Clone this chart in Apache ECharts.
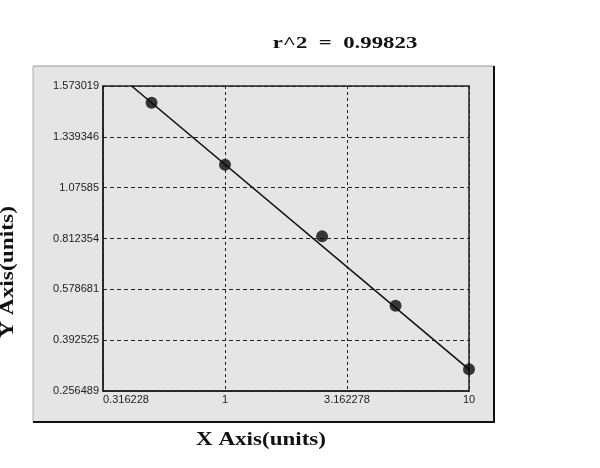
<!DOCTYPE html>
<html>
<head>
<meta charset="utf-8">
<script src="https://cdn.jsdelivr.net/npm/echarts@6/dist/echarts.min.js"></script>
<style>
html,body{margin:0;padding:0;background:#fff;}
#chart{width:600px;height:468px;}
</style>
</head>
<body>
<div id="chart"></div>
<script>
// ---- data ----
var xTickValues = [0.316228, 1, 3.162278, 10];
var xTickLabels = ['0.316228', '1', '3.162278', '10'];
var yTickValues = [0.256489, 0.392525, 0.578681, 0.812354, 1.07585, 1.339346, 1.573019];
var yTickLabels = ['0.256489', '0.392525', '0.578681', '0.812354', '1.07585', '1.339346', '1.573019'];
var pointX = [0.5, 1, 2.5, 5, 10];
var pointY = [1.4964, 1.1942, 0.8234, 0.5184, 0.3144];
var fitX = [0.4143, 10];
var fitY = [1.573019, 0.3144];
var titleText = 'r^2  =  0.99823';
var xAxisTitle = 'X Axis(units)';
var yAxisTitle = 'Y Axis(units)';

// y axis ticks are evenly spaced on screen; map values onto tick positions
function yPos(v) {
  for (var i = 0; i < yTickValues.length - 1; i++) {
    var a = yTickValues[i], b = yTickValues[i + 1];
    if (v <= b || i === yTickValues.length - 2) {
      return i + (v - a) / (b - a);
    }
  }
}
function xLabel(v) {
  var best = 0, bd = Infinity;
  for (var i = 0; i < xTickValues.length; i++) {
    var d = Math.abs(Math.log(v) - Math.log(xTickValues[i]));
    if (d < bd) { bd = d; best = i; }
  }
  return bd < 0.01 ? xTickLabels[best] : '';
}

var points = pointX.map(function (x, i) { return [x, yPos(pointY[i])]; });
var fit = fitX.map(function (x, i) { return [x, yPos(fitY[i])]; });

var chart = echarts.init(document.getElementById('chart'), null, {renderer: 'canvas'});
var panelL = 33, panelT = 66, panelR = 494, panelB = 422;
var serif17 = 'bold 17px "Liberation Serif", "DejaVu Serif", serif';
var serif18 = 'bold 18px "Liberation Serif", "DejaVu Serif", serif';
chart.setOption({
  animation: false,
  backgroundColor: '#ffffff',
  graphic: [
    {type: 'rect', z: -10, shape: {x: panelL, y: panelT, width: panelR - panelL, height: panelB - panelT},
     style: {fill: '#e5e5e5', stroke: null}},
    {type: 'line', z: -9, shape: {x1: panelL, y1: panelT, x2: panelR, y2: panelT}, style: {stroke: '#9a9a9a', lineWidth: 1}},
    {type: 'line', z: -9, shape: {x1: panelL, y1: panelT, x2: panelL, y2: panelB}, style: {stroke: '#b0b0b0', lineWidth: 1}},
    {type: 'line', z: -9, shape: {x1: panelR, y1: panelT, x2: panelR, y2: panelB + 1}, style: {stroke: '#111', lineWidth: 2}},
    {type: 'line', z: -9, shape: {x1: panelL, y1: panelB, x2: panelR + 1, y2: panelB}, style: {stroke: '#111', lineWidth: 2}},
    {type: 'text', x: 345, y: 44, scaleX: 1.34,
     style: {text: titleText, font: serif17, fill: '#111', align: 'center', verticalAlign: 'middle'}},
    {type: 'text', x: 261, y: 440, scaleX: 1.28,
     style: {text: xAxisTitle, font: serif18, fill: '#111', align: 'center', verticalAlign: 'middle'}},
    {type: 'text', x: 8, y: 272, rotation: Math.PI / 2, scaleX: 1.3,
     style: {text: yAxisTitle, font: serif18, fill: '#111', align: 'center', verticalAlign: 'middle'}}
  ],
  grid: {left: 103, right: 131, top: 86, bottom: 77, show: true, borderColor: '#222', borderWidth: 1.5, backgroundColor: 'transparent'},
  xAxis: {
    type: 'log', logBase: Math.sqrt(10), min: xTickValues[0], max: xTickValues[xTickValues.length - 1],
    axisLine: {show: true, lineStyle: {color: '#222', width: 1.5}},
    axisTick: {show: false},
    axisLabel: {formatter: xLabel, color: '#222', fontFamily: '"Liberation Sans", Arial, sans-serif', fontSize: 11, margin: 3,
                showMinLabel: true, showMaxLabel: true, alignMinLabel: 'left'},
    splitLine: {show: true, lineStyle: {color: '#222', type: [3, 3], width: 1}},
    minorTick: {show: false}
  },
  yAxis: {
    type: 'value', min: 0, max: yTickValues.length - 1, interval: 1,
    axisLine: {show: true, lineStyle: {color: '#222', width: 1.5}},
    axisTick: {show: false},
    axisLabel: {formatter: function (v) { return yTickLabels[Math.round(v)]; }, color: '#222',
                fontFamily: '"Liberation Sans", Arial, sans-serif', fontSize: 11, margin: 4},
    splitLine: {show: true, lineStyle: {color: '#222', type: [4, 3], width: 1}}
  },
  series: [
    {type: 'line', data: fit, symbol: 'none', lineStyle: {color: '#111', width: 1.6}, z: 2, silent: true},
    {type: 'scatter', data: points, symbol: 'circle', symbolSize: 12, itemStyle: {color: '#0a0a0a'}, z: 3}
  ]
});
</script>
</body>
</html>
